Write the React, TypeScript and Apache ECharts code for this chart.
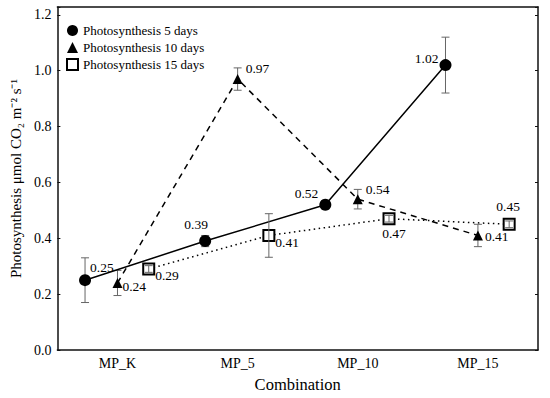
import React, { useEffect, useRef } from "react";
import * as echarts from "echarts";

const categories = ["MP_K", "MP_5", "MP_10", "MP_15"];
const seriesNames = ["Photosynthesis 5 days", "Photosynthesis 10 days", "Photosynthesis 15 days"];
const values5 = [0.25, 0.39, 0.52, 1.02];
const values10 = [0.24, 0.97, 0.54, 0.41];
const values15 = [0.29, 0.41, 0.47, 0.45];
const err5 = [0.08, 0.02, 0.015, 0.1];
const err10 = [0.045, 0.04, 0.035, 0.04];
const err15 = [0.012, 0.078, 0.012, 0.012];
const yTicks = [0, 0.2, 0.4, 0.6, 0.8, 1.0, 1.2];

const FONT = "Liberation Serif";

export default function App() {
  const ref = useRef<HTMLDivElement>(null);
  useEffect(() => {
    if (!ref.current) return;
    const chart = echarts.init(ref.current, null, { renderer: "svg" });
    const offsets = [-0.27, 0, 0.26];
    const labelCfg5 = [
      { position: "right", offset: [-4, -13] },
      { position: "top", offset: [-9, -1] },
      { position: "left", offset: [2, -11] },
      { position: "left", offset: [2, -7] },
    ];
    const labelCfg10 = [
      { position: "right", offset: [-3, 4] },
      { position: "right", offset: [0, -11] },
      { position: "right", offset: [0, -10] },
      { position: "right", offset: [-1, 1] },
    ];
    const labelCfg15 = [
      { position: "right", offset: [-3, 7] },
      { position: "right", offset: [-3, 7] },
      { position: "bottom", offset: [5, -2] },
      { position: "top", offset: [-1, -1] },
    ];
    const mk = (vals: number[], off: number, cfg: any[]) =>
      vals.map((v, i) => ({
        value: [i + off, v],
        label: { show: true, position: cfg[i].position, offset: cfg[i].offset, distance: 3 },
      }));
    const errData = (vals: number[], errs: number[], off: number) =>
      vals.map((v, i) => [i + off, v - errs[i], v + errs[i]]);
    const errRender = (params: any, api: any) => {
      const x = api.value(0);
      const lo = api.coord([x, api.value(1)]);
      const hi = api.coord([x, api.value(2)]);
      const w = 4;
      const st = { stroke: "#666", lineWidth: 1 };
      return {
        type: "group",
        children: [
          { type: "line", shape: { x1: lo[0], y1: lo[1], x2: hi[0], y2: hi[1] }, style: st },
          { type: "line", shape: { x1: lo[0] - w, y1: lo[1], x2: lo[0] + w, y2: lo[1] }, style: st },
          { type: "line", shape: { x1: hi[0] - w, y1: hi[1], x2: hi[0] + w, y2: hi[1] }, style: st },
        ],
      };
    };
    const labelText = {
      fontFamily: FONT,
      fontSize: 13.5,
      color: "#000",
      formatter: (p: any) => p.value[1].toFixed(2),
    };
    chart.setOption({
      animation: false,
      textStyle: { fontFamily: FONT },
      grid: { left: 45, right: 12, top: 7, bottom: 40 },
      legend: {
        orient: "vertical",
        left: 61,
        top: 19,
        itemWidth: 11,
        itemHeight: 11,
        itemGap: 4,
        textStyle: { fontFamily: FONT, fontSize: 13, color: "#000" },
        data: [
          { name: seriesNames[0], icon: "circle" },
          { name: seriesNames[1], icon: "triangle" },
          { name: seriesNames[2], icon: "rect" },
        ],
      },
      xAxis: [
        {
          type: "category",
          data: categories,
          boundaryGap: true,
          position: "bottom",
          name: "Combination",
          nameLocation: "middle",
          nameGap: 26,
          nameTextStyle: { fontFamily: FONT, fontSize: 16.5, color: "#000" },
          axisLine: { onZero: false, lineStyle: { color: "#111", width: 1.5 } },
          axisTick: { inside: true, length: 3, alignWithLabel: true, lineStyle: { color: "#111" } },
          axisLabel: { fontFamily: FONT, fontSize: 14, color: "#000", margin: 6 },
          splitLine: { show: false },
        },
        {
          type: "value",
          min: -0.5,
          max: 3.5,
          show: false,
          position: "bottom",
          axisLine: { onZero: false },
        },
        {
          type: "category",
          data: categories,
          boundaryGap: true,
          position: "top",
          axisLine: { onZero: false, lineStyle: { color: "#111", width: 1.5 } },
          axisTick: { inside: true, length: 3, alignWithLabel: true, lineStyle: { color: "#111" } },
          axisLabel: { show: false },
          splitLine: { show: false },
        },
      ],
      yAxis: [
        {
          type: "value",
          min: 0,
          max: 1.228,
          interval: 0.2,
          position: "left",
          name: "Photosynthesis μmol CO₂ m⁻² s⁻¹",
          nameLocation: "middle",
          nameGap: 30,
          nameTextStyle: { fontFamily: FONT, fontSize: 15, color: "#000" },
          axisLine: { show: true, onZero: false, lineStyle: { color: "#111", width: 1.5 } },
          axisTick: { show: true, inside: true, length: 3, lineStyle: { color: "#111" } },
          axisLabel: {
            fontFamily: FONT,
            fontSize: 14,
            color: "#000",
            margin: 6,
            formatter: (v: number) =>
              yTicks.some((t) => Math.abs(t - v) < 1e-6) ? v.toFixed(1) : "",
          },
          splitLine: { show: false },
        },
        {
          type: "value",
          min: 0,
          max: 1.228,
          interval: 0.2,
          position: "right",
          axisLine: { show: true, onZero: false, lineStyle: { color: "#111", width: 1.5 } },
          axisTick: { show: true, inside: true, length: 3, lineStyle: { color: "#111" } },
          axisLabel: { show: false },
          splitLine: { show: false },
        },
      ],
      series: [
        {
          type: "custom",
          xAxisIndex: 1,
          yAxisIndex: 0,
          renderItem: errRender,
          data: errData(values5, err5, offsets[0]),
          z: 1,
          silent: true,
        },
        {
          type: "custom",
          xAxisIndex: 1,
          yAxisIndex: 0,
          renderItem: errRender,
          data: errData(values10, err10, offsets[1]),
          z: 1,
          silent: true,
        },
        {
          name: seriesNames[0],
          type: "line",
          xAxisIndex: 1,
          yAxisIndex: 0,
          data: mk(values5, offsets[0], labelCfg5),
          symbol: "circle",
          symbolSize: 12,
          lineStyle: { color: "#000", width: 1.5, type: "solid" },
          itemStyle: { color: "#000" },
          label: labelText,
          z: 3,
        },
        {
          name: seriesNames[1],
          type: "line",
          xAxisIndex: 1,
          yAxisIndex: 0,
          data: mk(values10, offsets[1], labelCfg10),
          symbol: "triangle",
          symbolSize: 10,
          lineStyle: { color: "#000", width: 1.5, type: [6, 5] },
          itemStyle: { color: "#000" },
          label: labelText,
          z: 3,
        },
        {
          name: seriesNames[2],
          type: "line",
          xAxisIndex: 1,
          yAxisIndex: 0,
          data: mk(values15, offsets[2], labelCfg15),
          symbol: "rect",
          symbolSize: 11,
          lineStyle: { color: "#000", width: 1.5, type: [1.5, 3.5] },
          itemStyle: { color: "#fff", borderColor: "#000", borderWidth: 2 },
          label: labelText,
          z: 3,
        },
        {
          type: "custom",
          xAxisIndex: 1,
          yAxisIndex: 0,
          renderItem: errRender,
          data: errData(values15, err15, offsets[2]),
          z: 5,
          silent: true,
        },
      ],
    });
    return () => chart.dispose();
  }, []);
  return (
    <div
      ref={ref}
      style={{ position: "absolute", left: 0, top: 0, width: 550, height: 398 }}
    />
  );
}
